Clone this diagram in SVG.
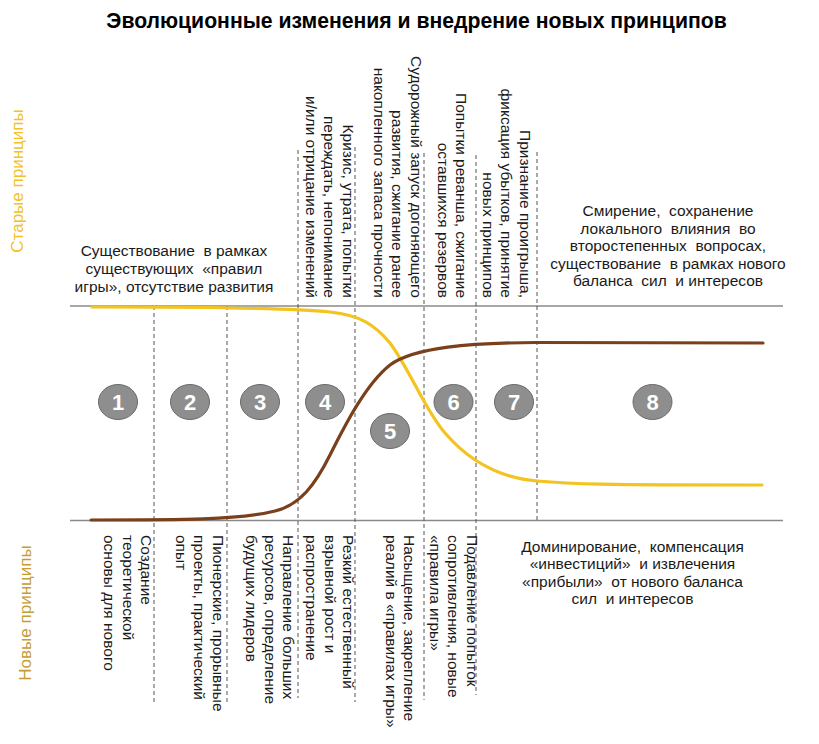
<svg xmlns="http://www.w3.org/2000/svg" width="819" height="744" viewBox="0 0 819 744">
<style>
text{font-family:"Liberation Sans",Arial,sans-serif;fill:#1a1a1a;white-space:pre}
.t{font-size:15.5px}
.title{font-size:21.2px;font-weight:bold;fill:#000}
.num{font-size:22px;font-weight:bold;fill:#fff;text-anchor:middle}
.c{fill:#8e8e8e;stroke:#6a6a6a;stroke-width:1}
.ax{stroke:#8a8a8a;stroke-width:1.3;fill:none}
.dash{stroke:#555;stroke-width:1;stroke-dasharray:4 3;fill:none}
.mid{text-anchor:middle}
.end{text-anchor:end}
</style>
<rect width="819" height="744" fill="#fff"/>
<text class="title mid" x="416.5" y="28">Эволюционные изменения и внедрение новых принципов</text>
<text x="23" y="181" transform="rotate(-90 23 181)" class="mid" style="font-size:17px;fill:#f2c12a">Старые принципы</text>
<text x="31" y="613" transform="rotate(-90 31 613)" class="mid" style="font-size:17px;fill:#c39d35">Новые принципы</text>
<g id="axes">
<line class="ax" x1="70" y1="306" x2="783" y2="306"/>
<line class="ax" x1="70" y1="520.5" x2="783" y2="520.5"/>
</g>
<g id="connectors">
<line class="dash" x1="154" y1="306" x2="154" y2="703"/>
<line class="dash" x1="227" y1="306" x2="227" y2="703"/>
<line class="dash" x1="298" y1="150" x2="298" y2="698"/>
<line class="dash" x1="355" y1="147" x2="355" y2="702"/>
<line class="dash" x1="424" y1="153" x2="424" y2="700"/>
<line class="dash" x1="476" y1="155" x2="476" y2="695"/>
<line class="dash" x1="537" y1="152" x2="537" y2="520"/>
<path id="old" d="M92,307 C200,307 290,308 330,312 C360,315 375,325 390,343 C410,370 425,410 445,433 C470,462 500,478 537,481 C570,484 600,485 762,485" fill="none" stroke="#f3c31f" stroke-width="3.2" stroke-linecap="round"/>
<path id="new" d="M91,520 C180,520 240,520 275,511 C300,505 315,485 330,455 C345,425 366,384 390,365 C415,347 470,343 537,342.5 L763,343" fill="none" stroke="#7a3f1b" stroke-width="3.2" stroke-linecap="round"/>
</g>
<g id="stage-1">
<ellipse class="c" cx="118" cy="402" rx="19.5" ry="17.5"/>
<text class="num" x="118" y="410">1</text>
<text class="t mid" x="174" y="256">Существование  в рамках</text>
<text class="t mid" x="174" y="273.8">существующих  «правил</text>
<text class="t mid" x="174" y="291.6">игры», отсутствие развития</text>
<text class="t" transform="translate(141,535) rotate(90)"><tspan x="0" y="0">Создание</tspan><tspan x="0" y="18.3">теоретической</tspan><tspan x="0" y="36.6">основы для нового</tspan></text>
</g>
<g id="stage-2">
<ellipse class="c" cx="190" cy="402" rx="19.5" ry="17.5"/>
<text class="num" x="190" y="410">2</text>
<text class="t" transform="translate(212.5,535) rotate(90)"><tspan x="0" y="0">Пионерские, прорывные</tspan><tspan x="0" y="18.3">проекты, практический</tspan><tspan x="0" y="36.6">опыт</tspan></text>
</g>
<g id="stage-3">
<ellipse class="c" cx="260" cy="402" rx="19.5" ry="17.5"/>
<text class="num" x="260" y="410">3</text>
<text class="t" transform="translate(283,535) rotate(90)"><tspan x="0" y="0">Направление больших</tspan><tspan x="0" y="18.3">ресурсов, определение</tspan><tspan x="0" y="36.6">будущих лидеров</tspan></text>
</g>
<g id="stage-4">
<ellipse class="c" cx="325" cy="402" rx="19.5" ry="17.5"/>
<text class="num" x="325" y="410">4</text>
<text class="t end" transform="translate(342.5,298) rotate(90)"><tspan x="0" y="0">Кризис, утрата, попытки</tspan><tspan x="0" y="18.3">переждать, непонимание</tspan><tspan x="0" y="36.6">и/или отрицание изменений</tspan></text>
<text class="t" transform="translate(343,535) rotate(90)"><tspan x="0" y="0">Резкий естественный</tspan><tspan x="0" y="18.3">взрывной рост и</tspan><tspan x="0" y="36.6">распространение</tspan></text>
</g>
<g id="stage-5">
<ellipse class="c" cx="390" cy="431" rx="19.5" ry="17.5"/>
<text class="num" x="390" y="439">5</text>
<text class="t end" transform="translate(410.5,298) rotate(90)"><tspan x="0" y="0">Судорожный запуск догоняющего</tspan><tspan x="0" y="18.5">развития, сжигание ранее</tspan><tspan x="0" y="37">накопленного запаса прочности</tspan></text>
<text class="t" transform="translate(404,535) rotate(90)"><tspan x="0" y="0">Насыщение, закрепление</tspan><tspan x="0" y="18.3">реалий в «правилах игры»</tspan></text>
</g>
<g id="stage-6">
<ellipse class="c" cx="453.5" cy="402" rx="19.5" ry="17.5"/>
<text class="num" x="453.5" y="410">6</text>
<text class="t end" transform="translate(456,298) rotate(90)"><tspan x="0" y="0">Попытки реванша, сжигание</tspan><tspan x="0" y="18">оставшихся резервов</tspan></text>
<text class="t" transform="translate(466.5,535) rotate(90)"><tspan x="0" y="0">Подавление попыток</tspan><tspan x="0" y="18.3">сопротивления, новые</tspan><tspan x="0" y="36.6">«правила игры»</tspan></text>
</g>
<g id="stage-7">
<ellipse class="c" cx="514" cy="402" rx="19.5" ry="17.5"/>
<text class="num" x="514" y="410">7</text>
<text class="t end" transform="translate(519.5,298) rotate(90)"><tspan x="0" y="0">Признание проигрыша,</tspan><tspan x="0" y="18.5">фиксация убытков, принятие</tspan><tspan x="0" y="37">новых принципов</tspan></text>
</g>
<g id="stage-8">
<ellipse class="c" cx="652.5" cy="402" rx="19.5" ry="17.5"/>
<text class="num" x="652.5" y="410">8</text>
<text class="t mid" x="668" y="216">Смирение,  сохранение</text>
<text class="t mid" x="668" y="233.5">локального  влияния  во</text>
<text class="t mid" x="668" y="251">второстепенных  вопросах,</text>
<text class="t mid" x="668" y="268.5">существование  в рамках нового</text>
<text class="t mid" x="668" y="286">баланса  сил  и интересов</text>
<text class="t mid" x="632.5" y="552">Доминирование,  компенсация</text>
<text class="t mid" x="632.5" y="569.3">«инвестиций»  и извлечения</text>
<text class="t mid" x="632.5" y="586.6">«прибыли»  от нового баланса</text>
<text class="t mid" x="632.5" y="604">сил  и интересов</text>
</g>
</svg>
